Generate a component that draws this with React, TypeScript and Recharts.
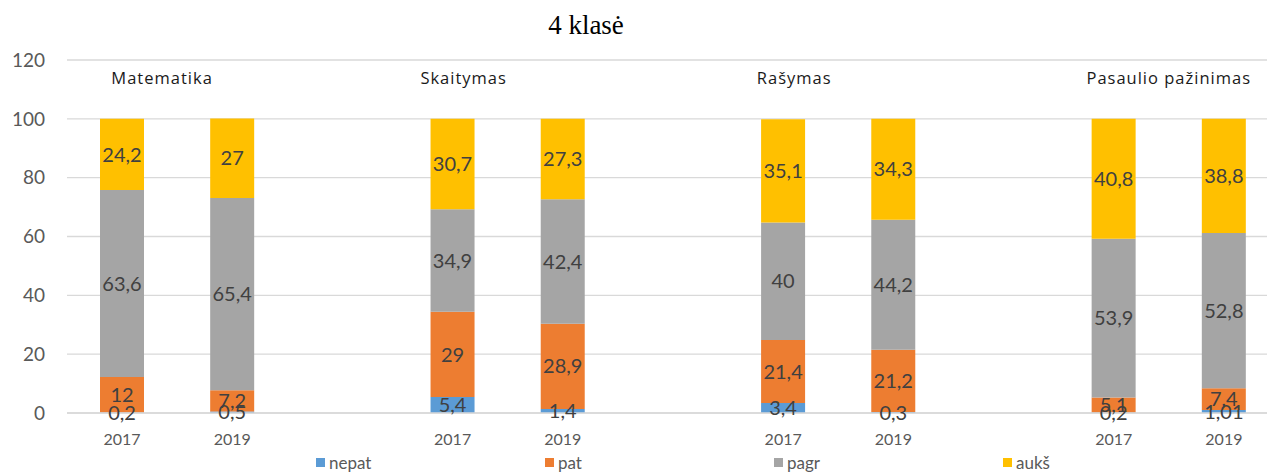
import React from 'react';
import {
  BarChart,
  Bar,
  XAxis,
  YAxis,
  CartesianGrid,
  LabelList,
  Legend,
  ReferenceDot,
} from 'recharts';

const subjects = ['Matematika', 'Skaitymas', 'Rašymas', 'Pasaulio pažinimas'];
const years = ['2017', '2019'];

// one value per bar: subject by subject, 2017 then 2019
const nepat = [0.2, 0.5, 5.4, 1.4, 3.4, 0.3, 0.2, 1.01];
const pat = [12, 7.2, 29, 28.9, 21.4, 21.2, 5.1, 7.4];
const pagr = [63.6, 65.4, 34.9, 42.4, 40, 44.2, 53.9, 52.8];
const auks = [24.2, 27, 30.7, 27.3, 35.1, 34.3, 40.8, 38.8];

const yTicks = [0, 20, 40, 60, 80, 100, 120];
const subjectLabelY = 114;

const series = [
  { key: 'nepat', name: 'nepat', color: '#5B9BD5' },
  { key: 'pat', name: 'pat', color: '#ED7D31' },
  { key: 'pagr', name: 'pagr', color: '#A5A5A5' },
  { key: 'auks', name: 'aukš', color: '#FFC000' },
];

// horizontal nudge of each subject caption from its 2017 bar
const subjectDx = [40, 11, 11, 55];

type Row = {
  key: string;
  year: string;
  nepat?: number;
  pat?: number;
  pagr?: number;
  auks?: number;
};

const rows: Row[] = [];
subjects.forEach((subject, s) => {
  years.forEach((year, y) => {
    const i = s * years.length + y;
    rows.push({
      key: `${subject}-${year}`,
      year,
      nepat: nepat[i],
      pat: pat[i],
      pagr: pagr[i],
      auks: auks[i],
    });
  });
  if (s < subjects.length - 1) rows.push({ key: `gap-${s}`, year: '' });
});

const fmt = (v: any) => (v == null ? '' : String(v).replace('.', ','));
const labelFont = 'Lato, "Liberation Sans", sans-serif';

const LegendContent = () => (
  <div
    style={{
      display: 'flex',
      paddingLeft: 316,
      marginTop: 9,
      fontFamily: labelFont,
      fontSize: 17,
      color: '#595959',
    }}
  >
    {series.map((s) => (
      <div key={s.key} style={{ width: 229, display: 'flex', alignItems: 'center' }}>
        <span style={{ width: 9, height: 9, background: s.color, marginRight: 4, display: 'inline-block' }} />
        <span>{s.name}</span>
      </div>
    ))}
  </div>
);

export default function App() {
  return (
    <div
      style={{
        position: 'absolute',
        left: 0,
        top: 0,
        width: 1267,
        height: 472,
        overflow: 'hidden',
        background: '#fff',
      }}
    >
      <BarChart
        width={1280}
        height={472}
        data={rows}
        margin={{ top: 60, right: 1, left: 0, bottom: 0 }}
        barSize={44}
      >
        <CartesianGrid vertical={false} stroke="#D9D9D9" strokeWidth={1.3} />
        <XAxis
          dataKey="key"
          tickFormatter={(k: string) => rows.find((r) => r.key === k)?.year ?? ''}
          interval={0}
          height={30}
          axisLine={{ stroke: '#D9D9D9', strokeWidth: 1.3 }}
          tickLine={false}
          tickSize={0}
          tickMargin={21}
          tick={{ fontSize: 16, fill: '#595959', fontFamily: labelFont }}
        />
        <YAxis
          width={67}
          domain={[0, 120]}
          ticks={yTicks}
          axisLine={false}
          tickLine={false}
          tickSize={0}
          tickMargin={22}
          tick={{ fontSize: 19, fill: '#595959', fontFamily: labelFont }}
        />
        <Legend verticalAlign="bottom" height={29} content={LegendContent} wrapperStyle={{ left: 0, width: 1280 }} />
        {series.map((s) => (
          <Bar key={s.key} dataKey={s.key} stackId="a" fill={s.color} name={s.name} isAnimationActive={false}>
            <LabelList
              dataKey={s.key}
              position="center"
              formatter={fmt}
              fill="#404040"
              fontSize={20}
              fontFamily={labelFont}
            />
          </Bar>
        ))}
        {subjects.map((subject, s) => (
          <ReferenceDot
            key={subject}
            x={`${subject}-${years[0]}`}
            y={subjectLabelY}
            r={0}
            fill="none"
            stroke="none"
            ifOverflow="visible"
            label={(props: any) => {
              const vb = props.viewBox || {};
              const cx = (vb.x ?? 0) + (vb.width ?? 0) / 2 + subjectDx[s];
              const cy = (vb.y ?? 0) + (vb.height ?? 0) / 2;
              return (
                <text
                  x={cx}
                  y={cy}
                  textAnchor="middle"
                  dominantBaseline="central"
                  fontFamily='"Open Sans", sans-serif'
                  fontSize={16.5}
                  letterSpacing={1}
                  fill="#1a1a1a"
                >
                  {subject}
                </text>
              );
            }}
          />
        ))}
      </BarChart>
      <svg style={{ position: 'absolute', left: 0, top: 0 }} width={1267} height={50}>
        <text x={586} y={34} textAnchor="middle" fontFamily='"Liberation Serif", serif' fontSize={27} fill="#000">
          4 klasė
        </text>
      </svg>
    </div>
  );
}
